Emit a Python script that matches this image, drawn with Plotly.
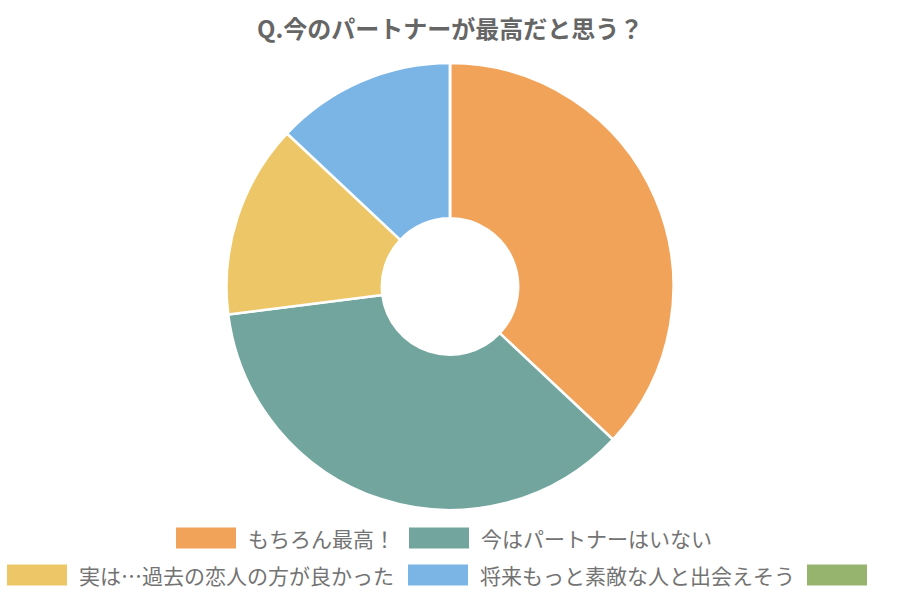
import plotly.graph_objects as go

labels = ["もちろん最高！", "今はパートナーはいない", "実は…過去の恋人の方が良かった", "将来もっと素敵な人と出会えそう", ""]
values = [37, 36, 14, 13, 0]
colors = ["#F1A35A", "#72A59E", "#EDC767", "#7AB5E6", "#96B46E"]
title = "Q.今のパートナーが最高だと思う？"

W, H = 900, 600
FONT = "Noto Sans CJK JP"

fig = go.Figure(go.Pie(
    labels=labels, values=values, sort=False, direction="clockwise", rotation=0,
    hole=0.305, marker=dict(colors=colors, line=dict(color="white", width=2.5)),
    textinfo="none", hoverinfo="label+value", showlegend=False,
    domain=dict(x=[0, 1], y=[1 - 510 / H, 1 - 63 / H]),
))

# legend layout (pixel positions of swatch left edge and row centre)
legend_pos = [(176, 538), (409, 538), (7, 575), (408, 575), (807, 575)]
sw_w, sw_h = 60, 21
shapes, annotations = [], []
for (x0, yc), lab, col in zip(legend_pos, labels, colors):
    shapes.append(dict(type="rect", xref="paper", yref="paper",
                       x0=x0 / W, x1=(x0 + sw_w) / W,
                       y0=1 - (yc + sw_h / 2) / H, y1=1 - (yc - sw_h / 2) / H,
                       fillcolor=col, line=dict(width=0)))
    if lab:
        annotations.append(dict(text=lab, xref="paper", yref="paper",
                                x=(x0 + sw_w + 10) / W, y=1 - yc / H,
                                xanchor="left", yanchor="middle", showarrow=False,
                                font=dict(family=FONT, size=21, color="#737373")))

annotations.append(dict(text="<b>" + title + "</b>", xref="paper", yref="paper",
                        x=0.5, y=1 - 27 / H, xanchor="center", yanchor="middle",
                        showarrow=False, font=dict(family=FONT, size=24, color="#666666")))

fig.update_layout(width=W, height=H, margin=dict(l=0, r=0, t=0, b=0),
                  paper_bgcolor="white", plot_bgcolor="white",
                  shapes=shapes, annotations=annotations,
                  font=dict(family=FONT))
fig.write_html("out.html", config={"displayModeBar": False},
               post_script="document.body.style.margin='0';")
